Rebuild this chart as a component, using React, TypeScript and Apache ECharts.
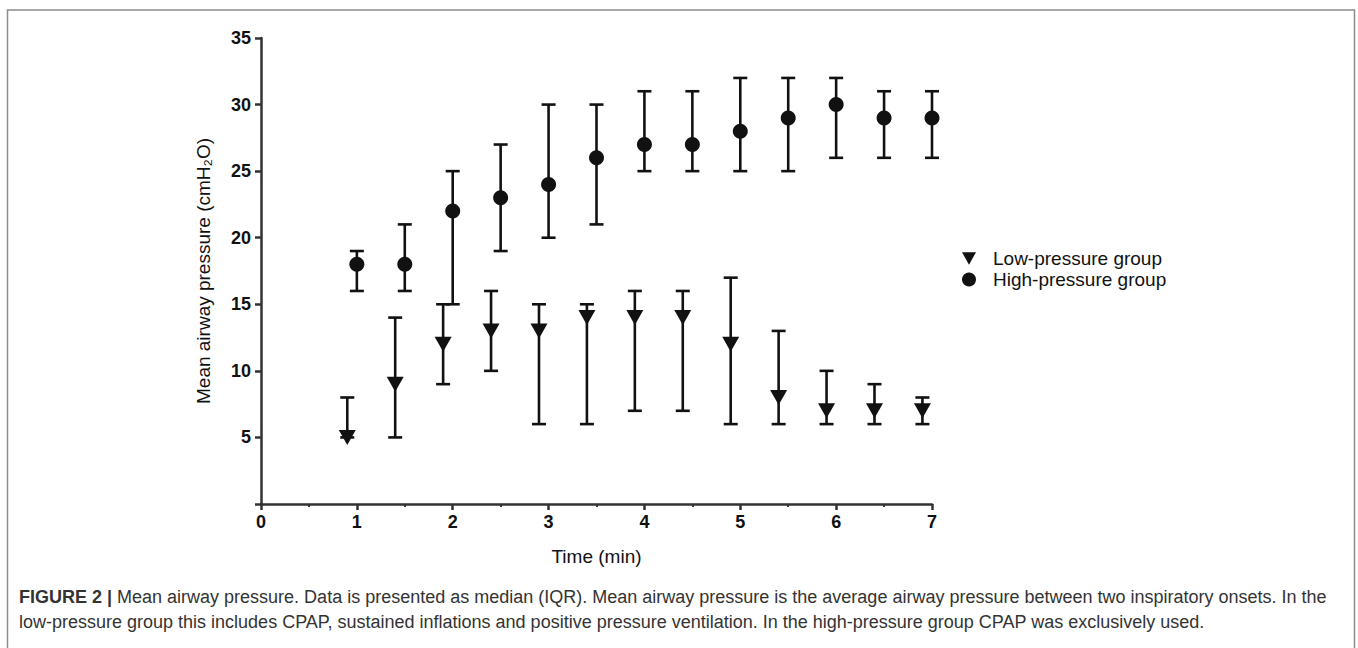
import React, { useEffect, useRef } from "react";
import * as echarts from "echarts";

const lowX = [0.9, 1.4, 1.9, 2.4, 2.9, 3.4, 3.9, 4.4, 4.9, 5.4, 5.9, 6.4, 6.9];
const lowMedian = [5, 9, 12, 13, 13, 14, 14, 14, 12, 8, 7, 7, 7];
const lowQ1 = [5, 5, 9, 10, 6, 6, 7, 7, 6, 6, 6, 6, 6];
const lowQ3 = [8, 14, 15, 16, 15, 15, 16, 16, 17, 13, 10, 9, 8];

const highX = [1, 1.5, 2, 2.5, 3, 3.5, 4, 4.5, 5, 5.5, 6, 6.5, 7];
const highMedian = [18, 18, 22, 23, 24, 26, 27, 27, 28, 29, 30, 29, 29];
const highQ1 = [16, 16, 15, 19, 20, 21, 25, 25, 25, 25, 26, 26, 26];
const highQ3 = [19, 21, 25, 27, 30, 30, 31, 31, 32, 32, 32, 31, 31];

const xTicks = ["0", "1", "2", "3", "4", "5", "6", "7"];
const yTicks = ["5", "10", "15", "20", "25", "30", "35"];

const seriesNames = ["Low-pressure group", "High-pressure group"];
const xTitle = "Time (min)";
const yTitle = "Mean airway pressure (cmH₂O)";
const captionBold = "FIGURE 2 |";
const captionLine1 =
  " Mean airway pressure. Data is presented as median (IQR). Mean airway pressure is the average airway pressure between two inspiratory onsets. In the";
const captionLine2 =
  "low-pressure group this includes CPAP, sustained inflations and positive pressure ventilation. In the high-pressure group CPAP was exclusively used.";

const TRI = "path://M0,0 L10,0 L5,9 Z";
const FONT = "'Liberation Sans', Arial, sans-serif";
const INK = "#111";

function errorBarRender(params: any, api: any) {
  const x = api.value(0);
  const lo = api.coord([x, api.value(1)]);
  const hi = api.coord([x, api.value(2)]);
  const half = 7;
  const style = { stroke: INK, lineWidth: 2.6 };
  return {
    type: "group",
    children: [
      { type: "line", shape: { x1: lo[0], y1: lo[1], x2: hi[0], y2: hi[1] }, style },
      { type: "line", shape: { x1: hi[0] - half, y1: hi[1], x2: hi[0] + half, y2: hi[1] }, style },
      { type: "line", shape: { x1: lo[0] - half, y1: lo[1], x2: lo[0] + half, y2: lo[1] }, style },
    ],
  };
}

export default function App() {
  const ref = useRef<HTMLDivElement>(null);
  useEffect(() => {
    if (!ref.current) return;
    const chart = echarts.init(ref.current, undefined, { renderer: "svg" });
    const lowBars = lowX.map((x, i) => [x, lowQ1[i], lowQ3[i]]);
    const highBars = highX.map((x, i) => [x, highQ1[i], highQ3[i]]);
    const lowPts = lowX.map((x, i) => [x, lowMedian[i]]);
    const highPts = highX.map((x, i) => [x, highMedian[i]]);
    chart.setOption({
      animation: false,
      backgroundColor: "#fff",
      textStyle: { fontFamily: FONT },
      grid: { left: 261, right: 426, top: 38, bottom: 144, containLabel: false },
      legend: {
        orient: "vertical",
        left: 957,
        top: 244,
        itemGap: 2,
        itemWidth: 14,
        itemHeight: 14,
        data: [
          { name: seriesNames[0], icon: TRI },
          { name: seriesNames[1], icon: "circle" },
        ],
        textStyle: { fontSize: 19, color: INK, fontFamily: FONT, padding: [0, 0, 0, 12] },
      },
      xAxis: {
        type: "value",
        min: 0,
        max: 7,
        interval: 1,
        name: xTitle,
        nameLocation: "middle",
        nameGap: 43,
        nameTextStyle: { fontSize: 19, color: INK, fontFamily: FONT },
        axisLine: { show: true, lineStyle: { color: "#333", width: 2.5 } },
        axisTick: { show: true, length: 6, lineStyle: { color: "#333", width: 2.5 } },
        minorTick: { show: true, splitNumber: 2, length: 3, lineStyle: { color: "#333", width: 2 } },
        splitLine: { show: false },
        axisLabel: {
          fontSize: 18,
          fontWeight: "bold",
          color: INK,
          margin: 9,
          fontFamily: FONT,
          formatter: (v: number) => xTicks[Math.round(v)] ?? "",
        },
      },
      yAxis: {
        type: "value",
        min: 0,
        max: 35,
        interval: 5,
        name: yTitle,
        nameLocation: "middle",
        nameGap: 48,
        nameTextStyle: { fontSize: 19, color: INK, fontFamily: FONT },
        axisLine: { show: true, lineStyle: { color: "#333", width: 2.5 } },
        axisTick: { show: true, length: 6, lineStyle: { color: "#333", width: 2.5 } },
        splitLine: { show: false },
        axisLabel: {
          fontSize: 18,
          fontWeight: "bold",
          color: INK,
          margin: 10,
          fontFamily: FONT,
          formatter: (v: number) => {
            const idx = yTicks.indexOf(String(v));
            return idx >= 0 ? yTicks[idx] : "";
          },
        },
      },
      graphic: [
        {
          type: "rect",
          shape: { x: 7.5, y: 10, width: 1347, height: 700 },
          style: { fill: "none", stroke: "#8c8c8c", lineWidth: 1.5 },
          silent: true,
        },
        {
          type: "text",
          left: 19,
          top: 588,
          style: {
            text: "{b|" + captionBold + "}{n|" + captionLine1 + "}",
            rich: {
              b: { fontSize: 18, fontWeight: "bold", fill: "#333", fontFamily: FONT },
              n: { fontSize: 18, fill: "#333", fontFamily: FONT },
            },
          },
        },
        {
          type: "text",
          left: 19,
          top: 613,
          style: { text: captionLine2, fontSize: 18, fill: "#333", fontFamily: FONT },
        },
      ],
      series: [
        {
          type: "custom",
          name: "lowBars",
          renderItem: errorBarRender,
          data: lowBars,
          encode: { x: 0, y: [1, 2] },
          z: 2,
          silent: true,
        },
        {
          type: "custom",
          name: "highBars",
          renderItem: errorBarRender,
          data: highBars,
          encode: { x: 0, y: [1, 2] },
          z: 2,
          silent: true,
        },
        {
          type: "scatter",
          name: seriesNames[0],
          data: lowPts,
          symbol: TRI,
          symbolSize: [17, 15],
          itemStyle: { color: INK, opacity: 1 },
          z: 3,
        },
        {
          type: "scatter",
          name: seriesNames[1],
          data: highPts,
          symbol: "circle",
          symbolSize: 15,
          itemStyle: { color: INK, opacity: 1 },
          z: 3,
        },
      ],
    });
    return () => chart.dispose();
  }, []);
  return (
    <div
      ref={ref}
      style={{ position: "fixed", left: 0, top: 0, width: 1358, height: 648, background: "#fff" }}
    />
  );
}
